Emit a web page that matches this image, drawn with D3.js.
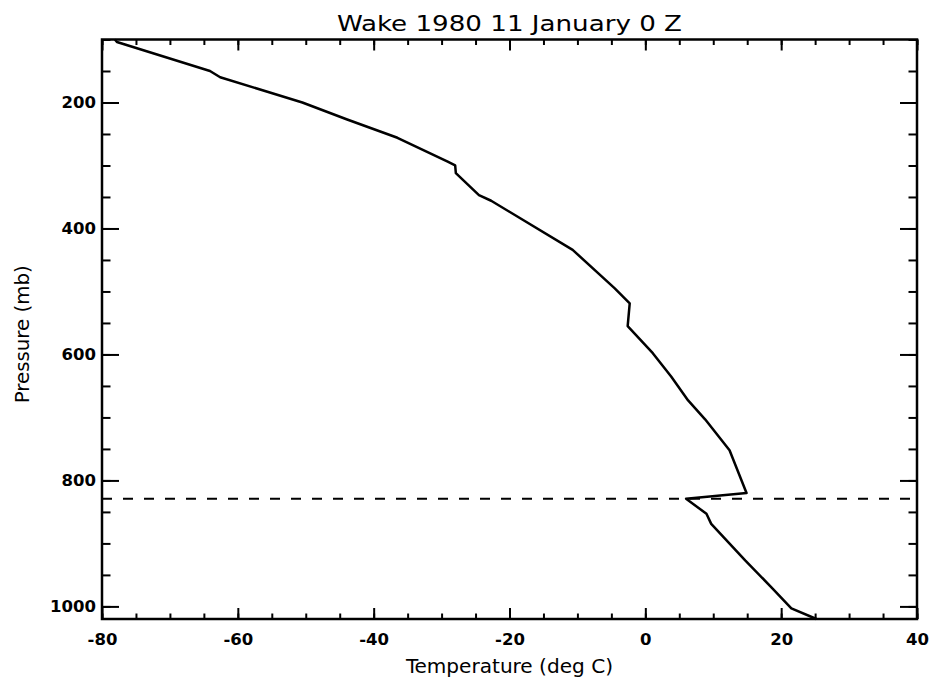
<!DOCTYPE html>
<html>
<head>
<meta charset="utf-8">
<script src="https://cdn.jsdelivr.net/npm/d3@7"></script>
<style>
  body { margin: 0; background: #fff; }
  svg { display: block; }
</style>
</head>
<body>
<div id="chart"></div>
<script>
// sounding profile
const pressure = [100, 104, 150, 160, 200, 227, 256, 294, 300, 312, 347, 356, 434, 495, 519, 555, 598, 635, 673, 703, 752, 820, 829, 853, 869, 927, 970, 1003, 1020];
const temperature = [-78.1, -77.8, -64.1, -62.6, -50.5, -43.9, -36.5, -29.1, -28.0, -27.9, -24.5, -22.7, -10.7, -4.5, -2.3, -2.6, 1.1, 3.8, 6.3, 8.8, 12.4, 14.9, 6.0, 9.0, 9.7, 14.7, 18.6, 21.5, 25.2];
const inversionPressure = 829;

const xTicks = [-80, -60, -40, -20, 0, 20, 40];
const xMinorTicks = d3.range(-80, 41, 5);
const yTicks = [200, 400, 600, 800, 1000];
const yMinorTicks = d3.range(100, 1021, 50);

const titleText = 'Wake 1980 11 January 0 Z';
const xLabel = 'Temperature (deg C)';
const yLabel = 'Pressure (mb)';

var width = 931, height = 679;
var margin = { top: 39.5, right: 14, bottom: 60, left: 102 };
var w = width - margin.left - margin.right,
  h = height - margin.top - margin.bottom;

var svg = d3.select('#chart')
  .append('svg')
  .attr('width', width)
  .attr('height', height);

var g = svg.append('g')
  .attr('transform', 'translate(' + margin.left + ',' + margin.top + ')');

const x = d3.scaleLinear().domain([-80, 40]).range([0, w]);
const y = d3.scaleLinear().domain([100, 1020]).range([0, h]);

// tick lengths like IDL: x ticks scale with height, y ticks with width
var xMajor = 11, xMinor = 5.5, yMajor = 17, yMinor = 8.5;

function styleAxis(sel) {
  sel.select('.domain').remove();
  sel.selectAll('line').attr('stroke', '#000').attr('stroke-width', 2);
  sel.selectAll('text')
    .attr('fill', '#000')
    .style('font-family', 'DejaVu Sans')
    .style('font-weight', 'bold')
    .style('font-size', '16.5px');
}

// bottom
g.append('g').attr('transform', `translate(0,${h})`)
  .call(d3.axisBottom(x).tickValues(xMinorTicks).tickSize(-xMinor).tickFormat(''))
  .call(styleAxis);
g.append('g').attr('transform', `translate(0,${h})`)
  .call(d3.axisBottom(x).tickValues(xTicks).tickSize(-xMajor).tickPadding(14)
    .tickFormat(d => d < 0 ? '-' + Math.abs(d) : String(d)))
  .call(styleAxis);
// top
g.append('g')
  .call(d3.axisTop(x).tickValues(xMinorTicks).tickSize(-xMinor).tickFormat(''))
  .call(styleAxis);
g.append('g')
  .call(d3.axisTop(x).tickValues(xTicks).tickSize(-xMajor).tickFormat(''))
  .call(styleAxis);
// left
g.append('g')
  .call(d3.axisLeft(y).tickValues(yMinorTicks).tickSize(-yMinor).tickFormat(''))
  .call(styleAxis);
g.append('g')
  .call(d3.axisLeft(y).tickValues(yTicks).tickSize(-yMajor).tickPadding(6)
    .tickFormat(d => String(d)))
  .call(styleAxis);
// right
g.append('g').attr('transform', `translate(${w},0)`)
  .call(d3.axisRight(y).tickValues(yMinorTicks).tickSize(-yMinor).tickFormat(''))
  .call(styleAxis);
g.append('g').attr('transform', `translate(${w},0)`)
  .call(d3.axisRight(y).tickValues(yTicks).tickSize(-yMajor).tickFormat(''))
  .call(styleAxis);

// frame
g.append('rect')
  .attr('width', w)
  .attr('height', h)
  .attr('fill', 'none')
  .attr('stroke', '#000')
  .attr('stroke-width', 2.5);

// dashed level
g.append('line')
  .attr('x1', 0)
  .attr('x2', w)
  .attr('y1', y(inversionPressure))
  .attr('y2', y(inversionPressure))
  .attr('stroke', '#000')
  .attr('stroke-width', 2)
  .attr('stroke-dasharray', '10,11');

// profile
var line = d3.line()
  .x((d, i) => x(temperature[i]))
  .y(d => y(d));
g.append('path')
  .datum(pressure)
  .attr('d', line)
  .attr('fill', 'none')
  .attr('stroke', '#000')
  .attr('stroke-width', 2.5)
  .attr('stroke-linejoin', 'round');

// title
svg.append('text')
  .attr('x', margin.left + w / 2)
  .attr('y', 31)
  .attr('text-anchor', 'middle')
  .attr('textLength', 345)
  .attr('lengthAdjust', 'spacingAndGlyphs')
  .style('font-family', 'DejaVu Sans Condensed, DejaVu Sans')
  .style('font-size', '22px')
  .text(titleText);

// x label
svg.append('text')
  .attr('x', margin.left + w / 2)
  .attr('y', 673)
  .attr('text-anchor', 'middle')
  .attr('textLength', 207)
  .attr('lengthAdjust', 'spacingAndGlyphs')
  .style('font-family', 'DejaVu Sans Condensed, DejaVu Sans')
  .style('font-size', '20px')
  .text(xLabel);

// y label
svg.append('text')
  .attr('text-anchor', 'middle')
  .attr('transform', 'translate(29,' + (margin.top + h / 2 + 5) + ')rotate(-90)')
  .attr('textLength', 138)
  .attr('lengthAdjust', 'spacingAndGlyphs')
  .style('font-family', 'DejaVu Sans Condensed, DejaVu Sans')
  .style('font-size', '20px')
  .text(yLabel);
</script>
</body>
</html>
